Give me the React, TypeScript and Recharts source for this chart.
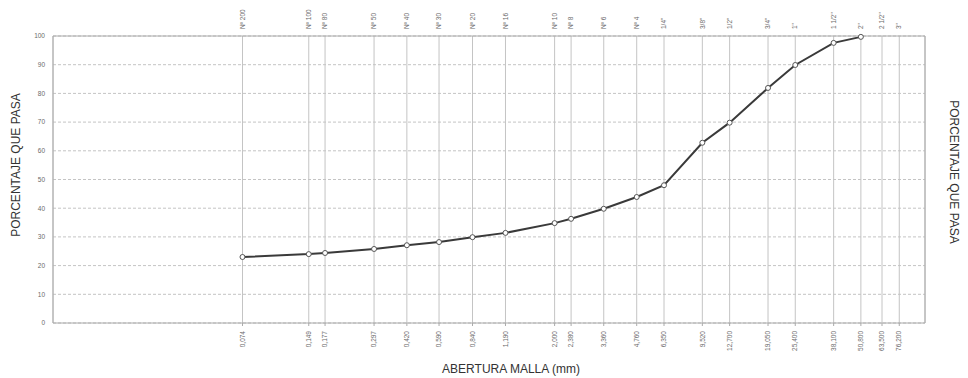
import React from "react";
import {
  LineChart,
  Line,
  XAxis,
  YAxis,
  CartesianGrid,
} from "recharts";

// sieve openings (mm) and their names
const sieveMm = [
  0.074, 0.149, 0.177, 0.297, 0.42, 0.59, 0.84, 1.19, 2.0, 2.38, 3.36, 4.76,
  6.35, 9.52, 12.7, 19.05, 25.4, 38.1, 50.8, 63.5, 76.2,
];
const sieveNames = [
  "Nº 200", "Nº 100", "Nº 80", "Nº 50", "Nº 40", "Nº 30", "Nº 20", "Nº 16",
  "Nº 10", "Nº 8", "Nº 6", "Nº 4", '1/4"', '3/8"', '1/2"', '3/4"', '1"',
  '1 1/2"', '2"', '2 1/2"', '3"',
];
// percentage passing, one per sieve (none for 2 1/2" and 3")
const percentPassing = [
  23, 24, 24.4, 25.8, 27.1, 28.2, 29.9, 31.4, 34.8, 36.3, 39.8, 43.9, 48,
  62.8, 69.8, 81.9, 89.9, 97.6, 99.7,
];
const yTicks = [0, 10, 20, 30, 40, 50, 60, 70, 80, 90, 100];

const data = percentPassing.map((p, i) => ({ mm: sieveMm[i], pct: p }));

const FONT = "'Liberation Sans', Arial, sans-serif";
const TICK_COLOR = "#6a6a6a";
const GRID = "#c4c4c4";

const fmtMm = (v: number) => v.toFixed(3).replace(".", ",");

function BottomTick(props: any) {
  const { x, y, payload } = props;
  return (
    <text
      transform={`translate(${x + 2.2},${y + 3}) rotate(-90)`}
      textAnchor="end"
      fontSize={6.5}
      fontFamily={FONT}
      fill={TICK_COLOR}
    >
      {fmtMm(payload.value)}
    </text>
  );
}

function TopTick(props: any) {
  const { x, y, payload } = props;
  const name = sieveNames[sieveMm.indexOf(payload.value)];
  return (
    <text
      transform={`translate(${x + 2.2},${y}) rotate(-90)`}
      textAnchor="start"
      fontSize={6.5}
      fontFamily={FONT}
      fill={TICK_COLOR}
    >
      {name}
    </text>
  );
}

const titleStyle = {
  fontSize: 12,
  fontFamily: FONT,
  fill: "#333",
};

const yTitle = "PORCENTAJE QUE PASA";

const LeftTitle = () => (
  <text
    transform="translate(20,165) rotate(-90)"
    textAnchor="middle"
    {...titleStyle}
  >
    {yTitle}
  </text>
);

const RightTitle = () => (
  <text
    transform="translate(950,172) rotate(90)"
    textAnchor="middle"
    {...titleStyle}
  >
    {yTitle}
  </text>
);

export default function App() {
  return (
    <div style={{ position: "absolute", left: 0, top: 0, background: "#fff" }}>
      <LineChart
        width={968}
        height={378}
        data={data}
        margin={{ top: 0, right: 0, bottom: 0, left: 0 }}
      >
        <CartesianGrid
          horizontal={true}
          vertical={false}
          stroke={GRID}
          strokeDasharray="3 2"
        />
        <CartesianGrid horizontal={false} vertical={true} stroke={GRID} />
        <XAxis
          dataKey="mm"
          type="number"
          scale="log"
          domain={[0.01, 100]}
          allowDataOverflow
          ticks={sieveMm}
          interval={0}
          height={55}
          tick={<BottomTick />}
          tickSize={3}
          tickMargin={2}
          axisLine={{ stroke: "#aaa" }}
          tickLine={{ stroke: "#aaa" }}
          label={{
            value: "ABERTURA MALLA (mm)",
            position: "insideBottom",
            offset: 5,
            dx: 22,
            ...titleStyle,
          }}
        />
        <XAxis
          xAxisId="top"
          orientation="top"
          dataKey="mm"
          type="number"
          scale="log"
          domain={[0.01, 100]}
          allowDataOverflow
          ticks={sieveMm}
          interval={0}
          height={36}
          tick={<TopTick />}
          tickSize={3}
          tickMargin={4}
          axisLine={{ stroke: "#aaa" }}
          tickLine={false}
        />
        <YAxis
          domain={[0, 100]}
          ticks={yTicks}
          interval={0}
          width={53}
          tickSize={4}
          tickMargin={4}
          tickLine={false}
          axisLine={{ stroke: "#aaa" }}
          tick={{ fontSize: 6.5, fontFamily: FONT, fill: TICK_COLOR }}
          label={{ content: <LeftTitle /> }}
        />
        <YAxis
          yAxisId="right"
          orientation="right"
          domain={[0, 100]}
          ticks={yTicks}
          interval={0}
          width={43}
          tickSize={4}
          tickMargin={4}
          tickLine={false}
          axisLine={{ stroke: "#aaa" }}
          tick={{ fontSize: 6.5, fontFamily: FONT, fill: TICK_COLOR }}
          label={{ content: <RightTitle /> }}
        />
        <Line
          type="linear"
          dataKey="pct"
          stroke="#3a3a3a"
          strokeWidth={2}
          dot={{ r: 2.5, fill: "#fff", stroke: "#555", strokeWidth: 1 }}
          isAnimationActive={false}
        />
      </LineChart>
    </div>
  );
}
